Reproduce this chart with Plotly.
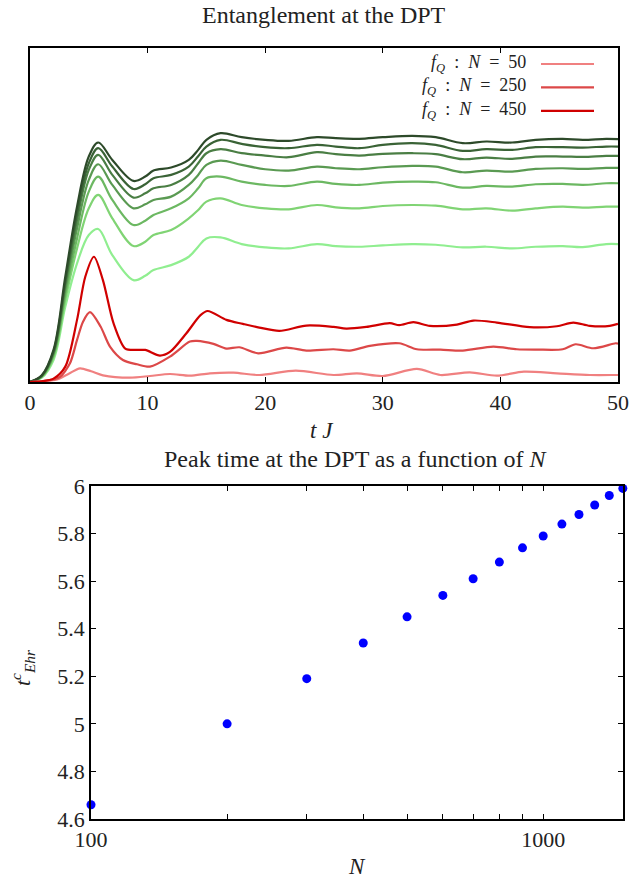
import plotly.graph_objects as go

# ---------------- Top panel data ----------------
t_green = [0, 1, 2, 3, 4, 5, 5.8, 7, 8.8, 9.8, 10.5, 12, 13.5, 14.3, 15, 16.2, 18, 20, 22, 24.4, 26, 28,
           30, 32.5, 34.5, 36.8, 38.8, 41, 43, 45.3, 47, 49, 50]

g1 = [0, .013, .066, .225, .355, .44, .458, .38, .305, .318, .335, .35, .375, .405, .43, .433, .413, .403, .40,
      .413, .407, .405, .409, .413, .411, .403, .405, .40, .405, .407, .404, .413, .413]
g2 = [0, .015, .074, .245, .40, .52, .560, .49, .407, .42, .44, .455, .49, .515, .54, .55, .53, .52, .517,
      .530, .523, .52, .527, .530, .528, .517, .52, .513, .52, .525, .522, .525, .525]
g3 = [0, .016, .08, .26, .43, .57, .615, .545, .470, .483, .50, .52, .55, .58, .61, .615, .60, .59, .587,
      .600, .593, .59, .597, .600, .598, .582, .587, .585, .592, .593, .59, .595, .595]
g4 = [0, .017, .084, .275, .46, .605, .652, .59, .520, .532, .545, .555, .59, .62, .65, .663, .65, .637,
      .633, .645, .64, .637, .643, .647, .645, .628, .633, .63, .638, .64, .638, .641, .641]
g5 = [0, .018, .088, .29, .485, .635, .680, .62, .552, .565, .58, .59, .62, .655, .685, .697, .685, .678,
      .673, .688, .682, .678, .683, .685, .682, .667, .672, .668, .675, .675, .674, .677, .677]
g6 = [0, .019, .092, .30, .505, .655, .700, .645, .578, .592, .61, .62, .645, .676, .705, .725, .713, .703,
      .700, .710, .705, .700, .71, .715, .71, .692, .697, .695, .703, .703, .702, .705, .705]
g7 = [0, .02, .096, .315, .525, .675, .717, .665, .602, .615, .633, .642, .665, .695, .725, .745, .733, .725,
      .722, .733, .73, .728, .733, .737, .733, .715, .72, .717, .725, .728, .725, .728, .727]
green_series = [g1, g2, g3, g4, g5, g6, g7]
green_colors = ["#90ee90", "#80d474", "#6cb862", "#5a9a52", "#4a7e44", "#3a6336", "#2d4a2a"]

t_r450 = [0, 1, 2, 3, 4, 4.7, 5.44, 6.2, 7.1, 8.1, 9.1, 9.8, 11.05, 11.9, 13.3, 14.5, 15.1, 16.7, 18.1,
          19.5, 21.2, 23.5, 25.8, 26.9, 28.6, 30.6, 31.4, 32.6, 34, 36.3, 37.7, 39.7, 42.5, 44.8, 46.2,
          47.6, 49.3, 50]
r450 = [0, 0.002, 0.01, 0.046, 0.186, 0.315, 0.375, 0.305, 0.176, 0.10, 0.096, 0.096, 0.079, 0.09,
        0.146, 0.20, 0.2125, 0.186, 0.174, 0.163, 0.153, 0.169, 0.165, 0.16, 0.165, 0.176, 0.17, 0.179,
        0.168, 0.172, 0.184, 0.178, 0.164, 0.167, 0.178, 0.168, 0.168, 0.174]

t_r250 = [0, 1, 2, 2.55, 3.4, 4, 4.5, 5.1, 6.0, 6.8, 7.9, 9.1, 10.2, 11.9, 13.6, 14.2, 15.6, 16.7, 17.8,
          19.4, 21.8, 23.5, 25.8, 27.2, 28.9, 31.4, 32.9, 34.9, 36.8, 39.4, 41.4, 43.1, 45.3, 46.4, 47.9,
          49.8, 50]
r250 = [0, 0.002, 0.008, 0.015, 0.056, 0.126, 0.18, 0.209, 0.166, 0.106, 0.066, 0.053, 0.046, 0.076,
        0.121, 0.123, 0.114, 0.10, 0.104, 0.086, 0.103, 0.094, 0.098, 0.094, 0.108, 0.116, 0.098, 0.097,
        0.094, 0.106, 0.098, 0.097, 0.098, 0.113, 0.101, 0.116, 0.115]

t_r50 = [0, 1, 2.3, 3.3, 4.25, 5.2, 6.2, 8.5, 10.2, 11.9, 13.6, 15.3, 17.3, 19.5, 22.6, 25.8, 27.8, 30,
         32.9, 34.9, 37.4, 39.7, 42, 44.8, 47.6, 49.8, 50]
r50 = [0, 0.002, 0.008, 0.025, 0.041, 0.032, 0.02, 0.013, 0.018, 0.024, 0.019, 0.026, 0.028, 0.021,
       0.034, 0.021, 0.026, 0.018, 0.039, 0.021, 0.029, 0.019, 0.031, 0.026, 0.021, 0.021, 0.021]

red_labels = ["<i>f<sub>Q</sub></i>  :  <i>N</i>  =  50",
              "<i>f<sub>Q</sub></i>  :  <i>N</i>  =  250",
              "<i>f<sub>Q</sub></i>  :  <i>N</i>  =  450"]
red_colors = ["#f08080", "#dc4848", "#d00000"]

top_xticks = [0, 10, 20, 30, 40, 50]

# ---------------- Bottom panel data ----------------
N_vals = [100, 200, 300, 400, 500, 600, 700, 800, 900, 1000, 1100, 1200, 1300, 1400, 1500]
t_peak = [4.66, 5.00, 5.19, 5.34, 5.45, 5.54, 5.61, 5.68, 5.74, 5.79, 5.84, 5.88, 5.92, 5.96, 5.99]
bottom_xticks = [100, 1000]
bottom_minor_xticks = [200, 300, 400, 500, 600, 700, 800, 900]
bottom_yticks = [4.6, 4.8, 5.0, 5.2, 5.4, 5.6, 5.8, 6.0]
bottom_yticktext = ["4.6", "4.8", "5", "5.2", "5.4", "5.6", "5.8", "6"]

FONT = "Liberation Serif"
TXT = "#222222"
W, H = 629, 880

fig = go.Figure()

for ys, col in zip(green_series, green_colors):
    fig.add_trace(go.Scatter(x=t_green, y=ys, mode="lines",
                             line=dict(color=col, width=2.2, shape="spline", smoothing=1.0),
                             showlegend=False, xaxis="x", yaxis="y", hoverinfo="skip"))

for tx, ys, col, lab in zip([t_r50, t_r250, t_r450], [r50, r250, r450], red_colors, red_labels):
    fig.add_trace(go.Scatter(x=tx, y=ys, mode="lines", name=lab,
                             line=dict(color=col, width=2.2, shape="spline", smoothing=0.8),
                             showlegend=False, xaxis="x", yaxis="y"))

fig.add_trace(go.Scatter(x=N_vals, y=t_peak, mode="markers", marker=dict(color="#0000ff", size=9),
                         showlegend=False, xaxis="x2", yaxis="y2", cliponaxis=False))


def px_x(p):
    return p / W


def px_y(p):
    return 1 - p / H


axis_common = dict(showline=True, linecolor="black", linewidth=1.5, mirror="ticks", ticks="inside",
                   ticklen=5, tickcolor="black", tickwidth=1, showgrid=False, zeroline=False,
                   automargin=False, tickfont=dict(family=FONT, size=22, color=TXT))

annotations = [
    dict(text="Entanglement at the DPT", x=px_x(324), y=px_y(15), xref="paper", yref="paper",
         showarrow=False, font=dict(family=FONT, size=24, color=TXT), xanchor="center", yanchor="middle"),
    dict(text="<i>t J</i>", x=px_x(322), y=px_y(430), xref="paper", yref="paper",
         showarrow=False, font=dict(family=FONT, size=23, color=TXT), xanchor="center", yanchor="middle"),
    dict(text="Peak time at the DPT as a function of <i>N</i>", x=px_x(355), y=px_y(459), xref="paper",
         yref="paper", showarrow=False, font=dict(family=FONT, size=24, color=TXT),
         xanchor="center", yanchor="middle"),
    dict(text="<i>N</i>", x=px_x(357), y=px_y(866), xref="paper", yref="paper",
         showarrow=False, font=dict(family=FONT, size=23, color=TXT), xanchor="center", yanchor="middle"),
    dict(text="<i>t</i><sup><i>c</i></sup><sub><i>Ehr</i></sub>", x=px_x(22), y=px_y(668), xref="paper",
         yref="paper", showarrow=False, textangle=-90, font=dict(family=FONT, size=22, color=TXT),
         xanchor="center", yanchor="middle"),
]

# gnuplot-style key: right-aligned text block followed by line samples
KEY_SIZE = 18
key_spacing = 1.3 * KEY_SIZE
key_first_row = 64
key_rows = [key_first_row + i * key_spacing for i in range(len(red_labels))]
annotations.append(dict(text="<br>".join(red_labels), x=px_x(528), y=px_y(key_rows[1]), xref="paper",
                        yref="paper", showarrow=False, align="right",
                        font=dict(family=FONT, size=KEY_SIZE, color=TXT),
                        xanchor="right", yanchor="middle"))
shapes = []
for col, row in zip(red_colors, key_rows):
    shapes.append(dict(type="line", xref="paper", yref="paper", x0=px_x(541), x1=px_x(594),
                       y0=px_y(row), y1=px_y(row), line=dict(color=col, width=2.2)))

fig.update_layout(
    width=W, height=H,
    margin=dict(l=0, r=0, t=0, b=0, autoexpand=False),
    paper_bgcolor="white", plot_bgcolor="white",
    font=dict(family=FONT, size=20, color=TXT),
    showlegend=False,
    xaxis=dict(domain=[px_x(30), px_x(618)], range=[0, 50], tickvals=top_xticks, anchor="y", **axis_common),
    yaxis=dict(domain=[px_y(382), px_y(48)], range=[0, 1], showticklabels=False, anchor="x",
               showline=True, linecolor="black", linewidth=1.5, mirror=True, ticks="",
               showgrid=False, zeroline=False, automargin=False),
    xaxis2=dict(domain=[px_x(91), px_x(623)], type="log", range=[2, 3.1765], tickvals=bottom_xticks,
                ticktext=["100", "1000"],
                minor=dict(tickvals=bottom_minor_xticks, ticks="inside", ticklen=5, tickcolor="black",
                           tickwidth=1, showgrid=False),
                anchor="y2", **axis_common),
    yaxis2=dict(domain=[px_y(819), px_y(486)], range=[4.6, 6.0], tickvals=bottom_yticks,
                ticktext=bottom_yticktext, anchor="x2", **axis_common),
    annotations=annotations,
    shapes=shapes,
)

fig.write_html("out.html", config={"displayModeBar": False},
               post_script="document.body.style.margin='0px';")
